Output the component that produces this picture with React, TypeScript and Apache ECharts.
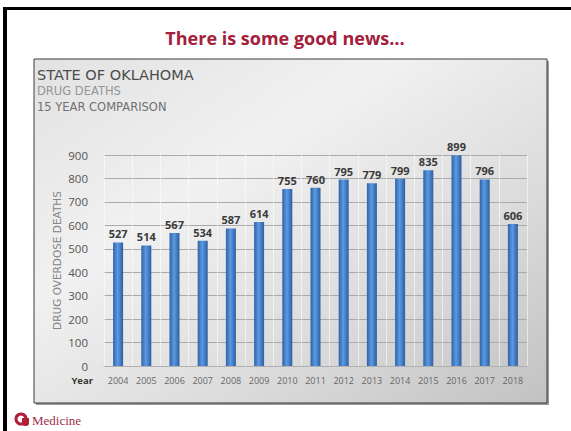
import React, { useEffect, useRef } from "react";
import * as echarts from "echarts";

const years = ["2004","2005","2006","2007","2008","2009","2010","2011","2012","2013","2014","2015","2016","2017","2018"];
const deaths = [527, 514, 567, 534, 587, 614, 755, 760, 795, 779, 799, 835, 899, 796, 606];
const yTicks = { min: 0, max: 900, interval: 100 };
const slideTitle = "There is some good news…";
const chartTitles = ["STATE OF OKLAHOMA", "DRUG DEATHS", "15 YEAR COMPARISON"];
const yAxisTitle = "DRUG OVERDOSE DEATHS";
const xAxisTitle = "Year";
const footer = "Medicine";

export default function App() {
  const ref = useRef<HTMLDivElement>(null);
  useEffect(() => {
    if (!ref.current) return;
    const chart = echarts.init(ref.current, null, { renderer: "svg" });
    const barColor = new echarts.graphic.LinearGradient(0, 0, 1, 0, [
      { offset: 0, color: "#2e62a6" },
      { offset: 0.45, color: "#5c9ae2" },
      { offset: 1, color: "#2d5e9f" },
    ]);
    chart.setOption({
      animation: false,
      backgroundColor: "#ffffff",
      graphic: [
        { type: "rect", z: -10, shape: { x: 36, y: 61, width: 513, height: 344 }, style: { fill: "#9a9a9a" } },
        {
          type: "rect", z: -9,
          shape: { x: 34, y: 59, width: 513, height: 344 },
          style: {
            fill: new echarts.graphic.LinearGradient(0, 0, 1, 1, [
              { offset: 0, color: "#e2e2e2" },
              { offset: 0.35, color: "#f1f1f1" },
              { offset: 0.7, color: "#dadada" },
              { offset: 1, color: "#c2c2c2" },
            ]),
            stroke: "#3a3a3a", lineWidth: 1,
          },
        },
        { type: "rect", shape: { x: 3, y: 7, width: 568, height: 3 }, style: { fill: "#000" } },
        { type: "rect", shape: { x: 3, y: 7, width: 4, height: 424 }, style: { fill: "#000" } },
        {
          type: "text", x: 285, y: 38,
          style: { text: slideTitle, fill: "#a3203a", font: "bold 18px 'Open Sans', sans-serif", align: "center", verticalAlign: "middle" },
        },
        {
          type: "text", x: 37, y: 75,
          style: { text: chartTitles[0], fill: "#4c4c4c", font: "14.5px 'DejaVu Sans', sans-serif", verticalAlign: "middle" },
        },
        {
          type: "text", x: 37, y: 91,
          style: { text: chartTitles[1], fill: "#959595", font: "11.5px 'DejaVu Sans', sans-serif", verticalAlign: "middle" },
        },
        {
          type: "text", x: 37, y: 107,
          style: { text: chartTitles[2], fill: "#707070", font: "11.5px 'DejaVu Sans', sans-serif", verticalAlign: "middle" },
        },
        {
          type: "text", x: 93, y: 380,
          style: { text: xAxisTitle, fill: "#333", font: "bold 9.5px 'Open Sans', sans-serif", align: "right", verticalAlign: "middle" },
        },
        { type: "circle", shape: { cx: 21, cy: 419, r: 5 }, style: { fill: "none", stroke: "#b0203a", lineWidth: 3 } },
        { type: "rect", shape: { x: 22, y: 418, width: 7, height: 8, r: [0, 0, 3, 3] }, style: { fill: "#b0203a" } },
        {
          type: "text", x: 32, y: 420,
          style: { text: footer, fill: "#a0304a", font: "13px 'Liberation Serif', serif", verticalAlign: "middle" },
        },
      ],
      grid: { left: 104, right: 44, top: 155, bottom: 65 },
      xAxis: {
        type: "category",
        data: years,
        axisLine: { show: true, lineStyle: { color: "#b0b0b0" } },
        axisTick: { show: false },
        splitLine: { show: true, lineStyle: { color: "rgba(255,255,255,0.55)", width: 1 } },
        axisLabel: { color: "#666", fontSize: 9, margin: 10, fontFamily: "'Open Sans', sans-serif", interval: 0 },
      },
      yAxis: {
        type: "value",
        min: yTicks.min, max: yTicks.max, interval: yTicks.interval,
        name: yAxisTitle,
        nameLocation: "middle",
        nameRotate: 90,
        nameGap: 42,
        nameMoveOverlap: false,
        nameTextStyle: { color: "#858585", fontSize: 10.5, fontFamily: "'DejaVu Sans', sans-serif" },
        axisLine: { show: false },
        axisTick: { show: false },
        splitLine: { lineStyle: { color: "#aaaaaa", width: 1 } },
        axisLabel: { color: "#555", fontSize: 11.5, margin: 16, padding: [8, 0, 0, 0], fontFamily: "'Open Sans', sans-serif" },
      },
      series: [
        {
          type: "bar",
          data: deaths,
          barWidth: 10,
          itemStyle: { color: barColor },
          label: {
            show: true, position: "top", distance: 3,
            color: "#3a3a3a", fontSize: 11, fontWeight: "bold", fontFamily: "'Open Sans', sans-serif",
          },
        },
      ],
    });
    return () => chart.dispose();
  }, []);
  return <div ref={ref} style={{ position: "fixed", left: 0, top: 0, width: 571, height: 431 }} />;
}
